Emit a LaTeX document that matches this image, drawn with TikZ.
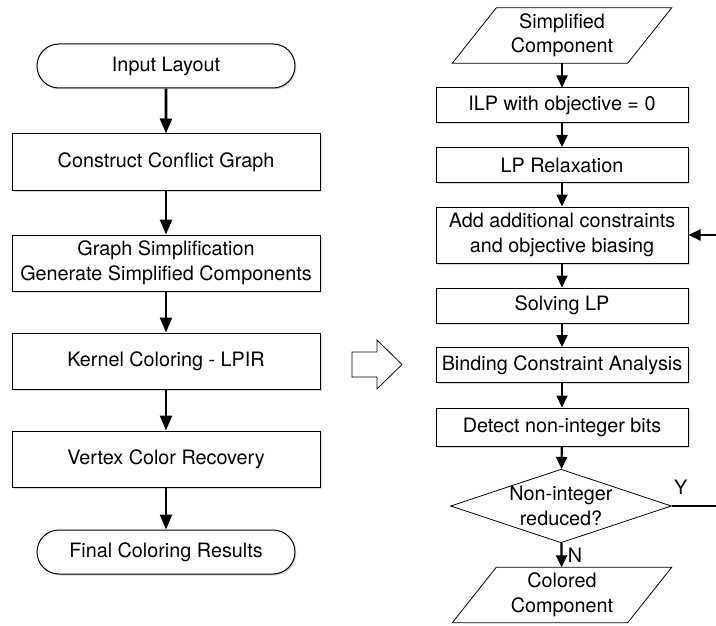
\documentclass[tikz,border=0pt]{standalone}
\usepackage{fontspec}
\setmainfont{TeX Gyre Heros}
\usetikzlibrary{shapes.geometric,shapes.misc,arrows.meta,shadows}

\tikzset{
  shade/.style={drop shadow={shadow xshift=1.5pt,shadow yshift=-1.5pt,opacity=0.3}},
  stepbox/.style={draw,line width=1pt,fill=white,align=center,inner sep=0pt,shade},
  endbox/.style={draw,line width=1pt,fill=white,rounded rectangle,inner sep=0pt,
    minimum width=258pt,minimum height=44pt,shade},
  iobox/.style={minimum width=175pt,minimum height=55pt,inner sep=0pt,align=center},
  slant/.style={line width=0.8pt},
  ask/.style={draw,line width=0.8pt,diamond,aspect=3,minimum width=216pt,minimum height=72pt,
    inner sep=0pt,align=center},
  bigarr/.style={line width=2.6pt,-{Triangle[length=15pt,width=12pt]}},
  smallarr/.style={line width=2.2pt,-{Triangle[length=12pt,width=11pt]}}
}

\begin{document}
\begin{tikzpicture}[x=1pt,y=-1pt,font=\fontsize{19.8}{24.5}\selectfont]
\useasboundingbox (0,0) rectangle (716,626);

% left flow
\node[endbox] (input) at (166,66) {Input Layout};
\node[stepbox,minimum width=308pt,minimum height=56pt] (conflict) at (166,162) {Construct Conflict Graph};
\node[stepbox,minimum width=308pt,minimum height=56pt] (simplify) at (166,263) {Graph Simplification\\Generate Simplified Components};
\node[stepbox,minimum width=308pt,minimum height=56pt] (kernel) at (166,361) {Kernel Coloring - LPIR};
\node[stepbox,minimum width=308pt,minimum height=56pt] (recover) at (166,459) {Vertex Color Recovery};
\node[endbox] (final) at (166,552) {Final Coloring Results};

\draw[bigarr] (input) -- (conflict);
\draw[bigarr] (conflict) -- (simplify);
\draw[bigarr] (simplify) -- (kernel);
\draw[bigarr] (kernel) -- (recover);
\draw[bigarr] (recover) -- (final);

% hollow arrow
\draw[line width=0.8pt] (352,352) -- (377,352) -- (377,340) -- (402,364.5) -- (377,389) -- (377,377) -- (352,377) -- cycle;

% right flow
\node[iobox] (comp) at (562,35.5) {Simplified\\Component};
\node[stepbox,minimum width=252pt,minimum height=35pt] (ilp) at (562,105.5) {ILP with objective = 0};
\node[stepbox,minimum width=252pt,minimum height=35pt] (relax) at (562,165) {LP Relaxation};
\node[stepbox,minimum width=252pt,minimum height=56pt] (add) at (562,235) {Add additional constraints\\and objective biasing};
\node[stepbox,minimum width=252pt,minimum height=35pt] (solve) at (562,305.5) {Solving LP};
\node[stepbox,minimum width=252pt,minimum height=35pt] (bind) at (562,365) {Binding Constraint Analysis};
\node[stepbox,minimum width=252pt,minimum height=38pt] (detect) at (562,427) {Detect non-integer bits};
\node[ask] (reduced) at (561,506) {Non-integer\\reduced?};
\node[iobox] (colored) at (562,595) {Colored\\Component};

% parallelogram outlines
\draw[slant] ([xshift=22pt]comp.north west) -- ([xshift=22pt]comp.north east)
  -- ([xshift=-22pt]comp.south east) -- ([xshift=-22pt]comp.south west) -- cycle;
\draw[slant] ([xshift=22pt]colored.north west) -- ([xshift=22pt]colored.north east)
  -- ([xshift=-22pt]colored.south east) -- ([xshift=-22pt]colored.south west) -- cycle;

\draw[smallarr] (comp) -- (ilp);
\draw[smallarr] (ilp) -- (relax);
\draw[smallarr] (relax) -- (add);
\draw[smallarr] (add) -- (solve);
\draw[smallarr] (solve) -- (bind);
\draw[smallarr] (bind) -- (detect);
\draw[smallarr] (detect) -- (reduced);
\draw[smallarr] (reduced) -- node[right,xshift=2pt] {N} (colored);

% loop back
\coordinate (yout) at (716,506);
\coordinate (yin) at (716,235);
\draw[line width=1.2pt] (reduced.east) -- node[above,pos=0.2,yshift=8pt] {Y} (yout);
\draw[smallarr] (yin) -- (add.east);
\end{tikzpicture}
\end{document}
